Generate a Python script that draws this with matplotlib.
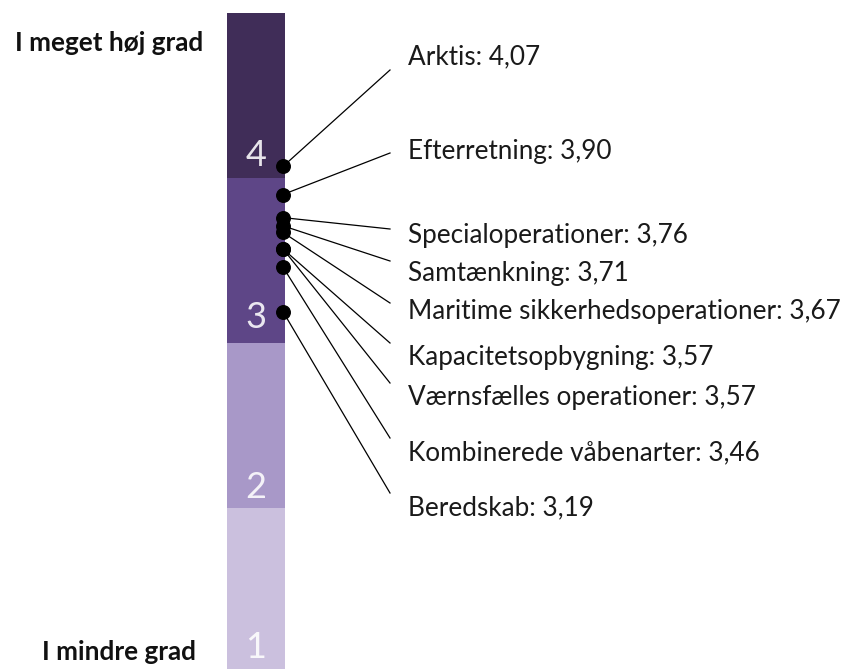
import matplotlib
matplotlib.use("Agg")
import matplotlib.pyplot as plt

# data
areas = [
    "Arktis",
    "Efterretning",
    "Specialoperationer",
    "Samtænkning",
    "Maritime sikkerhedsoperationer",
    "Kapacitetsopbygning",
    "Værnsfælles operationer",
    "Kombinerede våbenarter",
    "Beredskab",
]
scores = [4.07, 3.90, 3.76, 3.71, 3.67, 3.57, 3.57, 3.46, 3.19]
levels = [1, 2, 3, 4]
level_colors = ["#cbc0de", "#a898c8", "#5e4687", "#402d58"]
top_label = "I meget høj grad"
bottom_label = "I mindre grad"

plt.rcParams['font.family'] = ['Lato', 'DejaVu Sans']

W, H = 855, 669
fig = plt.figure(figsize=(W / 100, H / 100), dpi=100)
ax = fig.add_axes([0, 0, 1, 1])
ax.axis('off')


# layout helper: pixel row -> scale value (value 5 at px 13, 165 px per unit)
def py(p):
    return 5 - (p - 13) / 165.0


ax.set_xlim(0, W)
ax.set_ylim(py(H), py(0))

# the scale bar, one block per level
ax.bar([256] * len(levels), [1] * len(levels), bottom=levels, width=58,
       color=level_colors, linewidth=0)
num_y = [648, 487, 318, 155]
for lv, yy in zip(levels, num_y):
    ax.text(256, py(yy), str(lv), ha='center', va='center', fontsize=26,
            color='white', alpha=0.88)

# label layout (pixel rows)
label_y = [57, 152, 235, 274, 311, 357, 398, 453, 508]
end_y = [70, 153, 229, 261, 303, 343, 383, 438, 493]

dot_x = 283
for name, v, ly, ey in zip(areas, scores, label_y, end_y):
    ax.plot([dot_x, 390], [v, py(ey)], color='black', lw=0.9, zorder=2)
    txt = f"{name}: {v:.2f}".replace('.', ',')
    ax.text(408, py(ly), txt, ha='left', va='center', fontsize=18.8,
            color='#1a1a1a')
ax.scatter([dot_x] * len(scores), scores, s=95, color='black', zorder=3)

ax.text(203, py(43), top_label, ha='right', va='center', fontsize=18.8,
        fontweight='bold', color='#111111')
ax.text(196, py(652), bottom_label, ha='right', va='center', fontsize=18.8,
        fontweight='bold', color='#111111')

fig.savefig("out.png", dpi=100)
